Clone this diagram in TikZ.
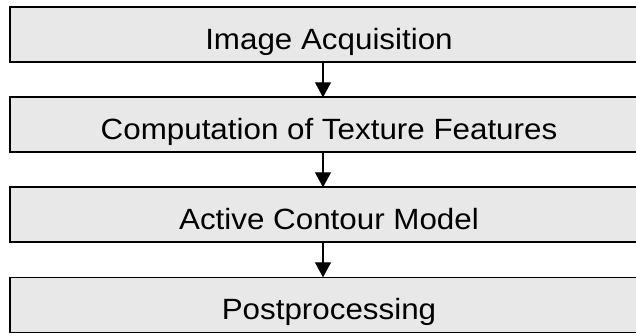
\documentclass[tikz,border=0pt]{standalone}
\usepackage{fontspec}
\setmainfont{Liberation Sans}[FakeStretch=1.07]
\usetikzlibrary{positioning,arrows.meta}
\definecolor{stagefill}{RGB}{232,232,232}
\begin{document}
\begin{tikzpicture}[
    stage/.style={draw=black, line width=1.6pt, fill=stagefill,
                  minimum width=638pt, minimum height=55pt,
                  inner sep=0pt, outer sep=0pt,
                  text height=29pt, text depth=0pt,
                  font=\fontsize{29.3pt}{32pt}\selectfont},
    flow/.style={line width=1.2pt, -{Triangle[width=16pt,length=15pt]}},
    node distance=35pt]
\useasboundingbox (0,0) rectangle (636pt,-336pt); % adjust bounding box
\node [stage] (acquire) at (329pt,-34.8pt) {Image Acquisition};
\node [stage, below=of acquire] (texture) {Computation of Texture Features};
\node [stage, below=of texture] (contour) {Active Contour Model};
\node [stage, below=of contour] (postproc) {Postprocessing};
\draw [flow] ([xshift=-6pt]acquire.south) -- ([xshift=-6pt]texture.north);
\draw [flow] ([xshift=-6pt]texture.south) -- ([xshift=-6pt]contour.north);
\draw [flow] ([xshift=-6pt]contour.south) -- ([xshift=-6pt]postproc.north);
\end{tikzpicture}
\end{document}
